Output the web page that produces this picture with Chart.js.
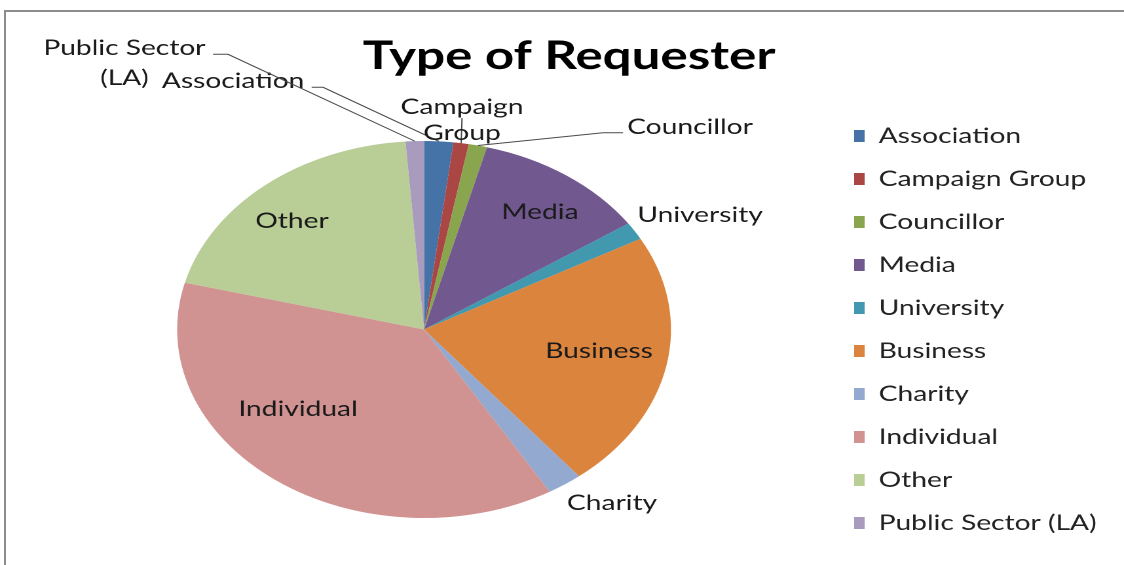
<!DOCTYPE html>
<html>
<head>
<meta charset="utf-8">
<script src="https://cdn.jsdelivr.net/npm/chart.js@4"></script>
<style>
  body { margin: 0; background: #fff; overflow: hidden; }
  #frame { position: absolute; left: 4px; top: 10px; width: 1200px; height: 600px;
           border-left: 2px solid #8c8c8c; border-top: 2px solid #8c8c8c; }
  /* the original picture is stretched sideways, so the whole chart is too */
  #wrap { position: absolute; left: 0; top: 0; width: 858px; height: 565px;
          transform: scaleX(1.31); transform-origin: 0 0; }
</style>
</head>
<body>
<div id="frame"></div>
<div id="wrap"><canvas id="pie"></canvas></div>
<script>
// data (share of requests, %)
const categories = ['Association', 'Campaign Group', 'Councillor', 'Media', 'University',
                    'Business', 'Charity', 'Individual', 'Other', 'Public Sector (LA)'];
const shares = [1.9, 1.0, 1.2, 11.4, 1.5, 22.2, 2.3, 37.5, 19.8, 1.2];
const titleText = 'Type of Requester';

const colors = ['#4572A7', '#AA4643', '#89A54E', '#71588F', '#4198AF',
                '#DB843D', '#93A9CF', '#D19392', '#B9CD96', '#A99BBD'];

// where each slice label sits, offset from the pie centre (px)
const labelSpots = {
    'Association':        { lines: ['Association'], dx: -145.8, dy: -248.5,
                            leader: [[-85.8, -242.2], [-77.1, -242.2]] },
    'Campaign Group':     { lines: ['Campaign', 'Group'], dx: 29, dy: -222.5, lh: 26,
                            leader: [[29, -211.5]] },
    'Councillor':         { lines: ['Councillor'], dx: 203, dy: -202.5,
                            leader: [[151.9, -196.8], [136.6, -196.8]] },
    'Media':              { lines: ['Media'], dx: 88.5, dy: -117.5 },
    'University':         { lines: ['University'], dx: 210.7, dy: -114.5 },
    'Business':           { lines: ['Business'], dx: 133.6, dy: 21.5 },
    'Charity':            { lines: ['Charity'], dx: 143.5, dy: 173.5 },
    'Individual':         { lines: ['Individual'], dx: -96.2, dy: 79.5 },
    'Other':              { lines: ['Other'], dx: -100.8, dy: -108.5 },
    'Public Sector (LA)': { lines: ['Public Sector', '(LA)'], dx: -228.7, dy: -281.5, lh: 30,
                            leader: [[-161.1, -275.2], [-149.7, -275.2]] }
};

const W = 858;
const fontFamily = 'Lato, "Open Sans", sans-serif';
const legendFont = 21.5, boxW = 8, legendPad = 21.5;
const boxX = 652;        // left edge of the legend squares
const pieX = 323.7;      // centre of the pie

// work out the paddings that put the legend and the pie where they belong
const mctx = document.createElement('canvas').getContext('2d');
mctx.font = legendFont + 'px ' + fontFamily;
let tw = 0;
categories.forEach(function (c) { tw = Math.max(tw, mctx.measureText(c).width); });
const legendLeft = boxX - legendPad;
const legendWidth = boxW + legendFont / 2 + tw + 10 + legendPad;
const padRight = W - legendLeft - legendWidth;
const padLeft = 2 * pieX - legendLeft;

const sliceLabels = {
    id: 'sliceLabels',
    afterDatasetsDraw(chart) {
        const c = chart.ctx;
        const meta = chart.getDatasetMeta(0);
        c.save();
        c.strokeStyle = '#4a4a4a';
        c.lineWidth = 1;
        c.fillStyle = '#1a1a1a';
        c.font = legendFont + 'px ' + fontFamily;
        c.textAlign = 'center';
        c.textBaseline = 'middle';
        meta.data.forEach(function (arc, i) {
            const p = arc.getProps(['x', 'y', 'startAngle', 'endAngle', 'outerRadius'], true);
            const mid = (p.startAngle + p.endAngle) / 2;
            const spot = labelSpots[categories[i]];
            if (spot.leader) {
                c.beginPath();
                c.moveTo(p.x + spot.leader[0][0], p.y + spot.leader[0][1]);
                for (let k = 1; k < spot.leader.length; k++) {
                    c.lineTo(p.x + spot.leader[k][0], p.y + spot.leader[k][1]);
                }
                c.lineTo(p.x + Math.cos(mid) * p.outerRadius, p.y + Math.sin(mid) * p.outerRadius);
                c.stroke();
            }
            spot.lines.forEach(function (t, k) {
                c.fillText(t, p.x + spot.dx, p.y + spot.dy + k * (spot.lh || 0));
            });
        });
        // chart title
        c.font = 'bold 39px ' + fontFamily;
        c.fillStyle = '#000';
        c.textBaseline = 'alphabetic';
        c.fillText(titleText, 434.4, 69);
        c.restore();
    }
};

new Chart(document.getElementById('pie'), {
    type: 'pie',
    data: {
        labels: categories,
        datasets: [{
            data: shares,
            backgroundColor: colors,
            borderWidth: 0
        }]
    },
    options: {
        responsive: true,
        maintainAspectRatio: false,
        animation: false,
        devicePixelRatio: 2,
        radius: 188.5,
        layout: { padding: { top: 94, left: padLeft, right: padRight, bottom: 0 } },
        plugins: {
            title: { display: false },
            tooltip: { enabled: false },
            legend: {
                position: 'right',
                align: 'center',
                labels: {
                    boxWidth: boxW,
                    boxHeight: 12,
                    padding: legendPad,
                    color: '#222',
                    font: { family: fontFamily, size: legendFont }
                }
            }
        }
    },
    plugins: [sliceLabels]
});
</script>
</body>
</html>
